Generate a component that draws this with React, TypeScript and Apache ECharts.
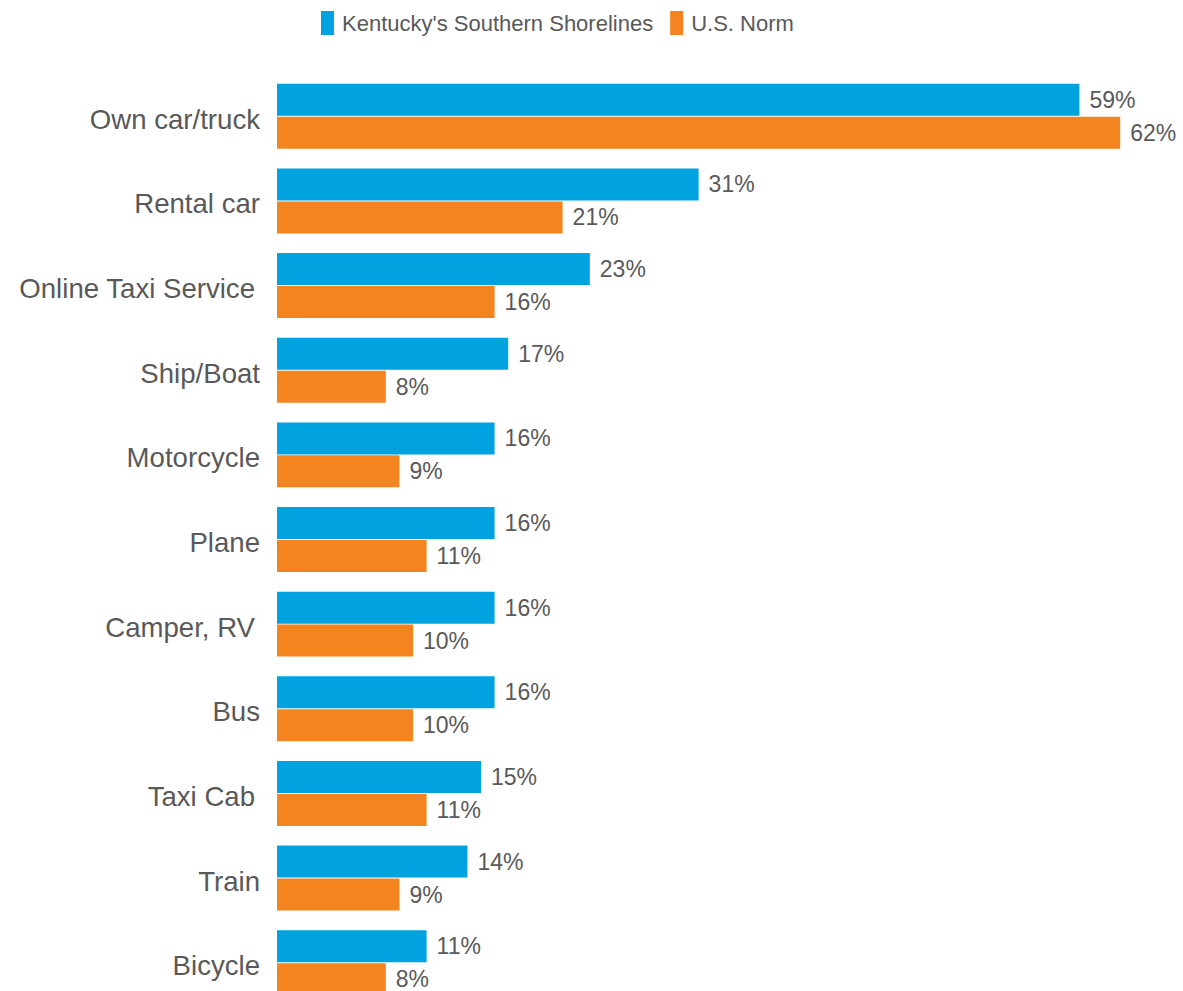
import React, { useEffect, useRef } from "react";
import * as echarts from "echarts";

const categories = [
  "Own car/truck",
  "Rental car",
  "Online Taxi Service ",
  "Ship/Boat",
  "Motorcycle",
  "Plane",
  "Camper, RV ",
  "Bus",
  "Taxi Cab ",
  "Train",
  "Bicycle",
];
const seriesNames = ["Kentucky's Southern Shorelines", "U.S. Norm"];
const kentuckyValues = [59, 31, 23, 17, 16, 16, 16, 16, 15, 14, 11];
const usNormValues = [62, 21, 16, 8, 9, 11, 10, 10, 11, 9, 8];

const FONT = "'Liberation Sans', Arial, sans-serif";
const TEXT = "#595959";

export default function App() {
  const ref = useRef<HTMLDivElement>(null);
  useEffect(() => {
    if (!ref.current) return;
    const chart = echarts.init(ref.current, null, { renderer: "svg" });
    const label = {
      show: true,
      position: "right",
      distance: 10,
      formatter: "{c}%",
      fontSize: 23,
      color: TEXT,
      fontFamily: FONT,
    };
    chart.setOption({
      animation: false,
      backgroundColor: "#ffffff",
      legend: {
        left: 316,
        top: 6,
        icon: "rect",
        itemWidth: 13,
        itemHeight: 24,
        itemGap: 17,
        textStyle: { fontSize: 22, color: TEXT, fontFamily: FONT, padding: [0, 0, 0, 3] },
        data: seriesNames,
      },
      grid: {
        left: 277,
        top: 74,
        width: 884,
        height: 931,
        outerBoundsMode: "none",
        containLabel: false,
      },
      xAxis: { type: "value", min: 0, max: 65, show: false },
      yAxis: {
        type: "category",
        inverse: true,
        data: categories,
        axisLine: { show: false },
        axisTick: { show: false },
        splitLine: { show: false },
        axisLabel: {
          margin: 17,
          fontSize: 27.6,
          color: TEXT,
          fontFamily: FONT,
          padding: [6, 0, 0, 0],
          formatter: (v: string) => (v.endsWith(" ") ? `{s|${v.trim()}}` : v),
          rich: {
            s: { fontSize: 27.6, color: TEXT, fontFamily: FONT, padding: [0, 5, 0, 0] },
          },
        },
      },
      series: [
        {
          name: seriesNames[0],
          type: "bar",
          data: kentuckyValues,
          barWidth: 32,
          barGap: "3%",
          itemStyle: { color: "#00A3E0" },
          label,
        },
        {
          name: seriesNames[1],
          type: "bar",
          data: usNormValues,
          barWidth: 32,
          barGap: "3%",
          itemStyle: { color: "#F3841F" },
          label,
        },
      ],
    });
    return () => chart.dispose();
  }, []);
  return (
    <div
      ref={ref}
      style={{ position: "absolute", left: 0, top: 0, width: 1183, height: 991 }}
    />
  );
}
